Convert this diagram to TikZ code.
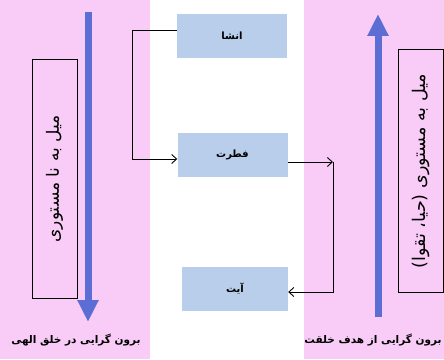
\documentclass[tikz,border=0pt]{standalone}
\usepackage{fontspec}
\usetikzlibrary{arrows.meta}
\TeXXeTstate=1
\newfontfamily\arabicfont[Script=Arabic]{DejaVu Sans}
\definecolor{pinkbg}{RGB}{248,204,246}
\definecolor{bluearr}{RGB}{92,110,212}
\definecolor{boxblue}{RGB}{184,206,234}
\tikzset{
  midbox/.style={fill=boxblue, minimum width=110pt, minimum height=44pt, inner sep=0pt, font=\arabicfont\bfseries\fontsize{10}{11}\selectfont},
  sidebox/.style={draw=black, line width=1pt, rotate=90, inner sep=0pt},
  bigarrow/.style={draw=bluearr, line width=7pt, -{Triangle[width=20pt,length=22pt]}},
  conn/.style={draw=black, line width=0.9pt},
  foot/.style={font=\arabicfont\bfseries\fontsize{10.5}{12}\selectfont},
}
\begin{document}
\begin{tikzpicture}[x=1pt,y=1pt]
\useasboundingbox (0,0) rectangle (444,359);
\fill[white] (0,0) rectangle (444,359);
\fill[pinkbg] (0,0) rectangle (150,359);
\fill[pinkbg] (304,0) rectangle (444,359);
% side boxes
\node[sidebox, minimum width=238pt, minimum height=45pt, font=\arabicfont\fontsize{17}{19}\selectfont] (leftbox) at (54.5,180) {\beginR میل به نا مستوری\endR};
\node[sidebox, minimum width=242pt, minimum height=45pt, font=\arabicfont\fontsize{17.5}{19}\selectfont] (rightbox) at (420.5,188) {\beginR میل به مستوری (حیا، تقوا)\endR};
% big arrows
\coordinate (la1) at (88,347);
\coordinate (la2) at (88,37);
\draw[bigarrow] (la1) -- (la2);
\coordinate (ra1) at (378,42);
\coordinate (ra2) at (378,345);
\draw[bigarrow] (ra1) -- (ra2);
% middle boxes
\node[midbox] (insha) at (232,323) {\beginR انشا\endR};
\node[midbox] (fitrat) at (232.5,204) {\beginR فطرت\endR};
\node[midbox, minimum width=106pt] (ayat) at (235,70) {\beginR آیت\endR};
% connectors
\coordinate (lc) at (132,329);
\draw[conn] ([yshift=6pt]insha.west) -- (lc);
\draw[conn, -{Straight Barb[length=5pt,width=9pt]}] (lc) |- ([yshift=-4pt]fitrat.west);
\coordinate (rc) at (333,197);
\draw[conn, -{Straight Barb[length=5pt,width=9pt]}] ([yshift=-7pt]fitrat.east) -- (rc);
\draw[conn, -{Straight Barb[length=5pt,width=9pt]}] (rc) |- ([yshift=-3pt]ayat.east);
% footers
\node[foot] (lfoot) at (76,19) {\beginR برون گرایی در خلق الهی\endR};
\node[foot] (rfoot) at (373,19) {\beginR برون گرایی از هدف خلقت\endR};
\end{tikzpicture}
\end{document}
